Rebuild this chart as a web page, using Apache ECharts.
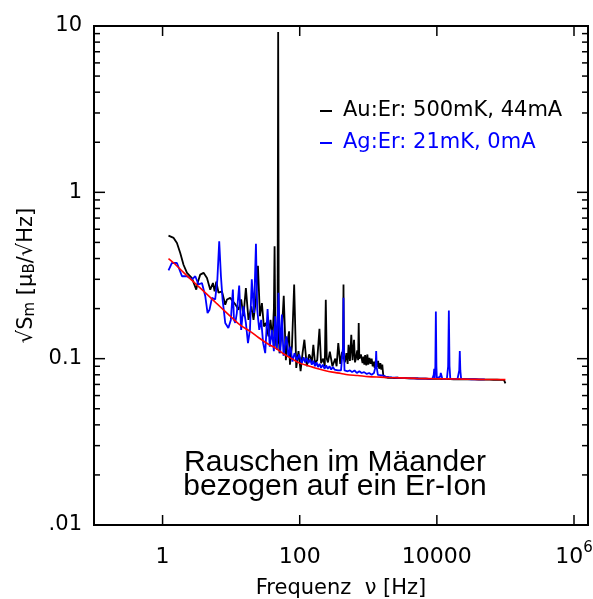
<!DOCTYPE html>
<html>
<head>
<meta charset="utf-8">
<script src="https://cdn.jsdelivr.net/npm/echarts@6/dist/echarts.min.js"></script>
<style>
html, body { margin: 0; padding: 0; background: #fff; }
#chart { width: 593px; height: 599px; }
</style>
</head>
<body>
<div id="chart"></div>
<script>
// Noise spectrum, Au:Er sample at 500 mK / 44 mA: [frequency Hz, sqrt(S_m) in muB/sqrt(Hz)]
const auEr = [
  [1.22,0.549],[1.45,0.532],[1.62,0.496],[1.81,0.432],[2.02,0.367],[2.27,0.328],[2.68,0.305],[3.1,0.26],
  [3.24,0.285],[3.54,0.32],[3.96,0.328],[4.44,0.305],[4.96,0.26],[5.43,0.285],[5.74,0.254],[6.07,0.29],
  [6.55,0.249],[7.34,0.254],[8.2,0.211],[8.7,0.227],[9.7,0.232],[10.6,0.221],[11.5,0.212],[12.8,0.197],
  [14.0,0.227],[15.1,0.180],[16.4,0.266],[17.9,0.171],[19.7,0.206],[21.2,0.171],[23.0,0.227],[24.6,0.362],
  [26.3,0.180],[28.1,0.216],[30.0,0.156],[32.1,0.164],[35.0,0.136],[37.5,0.171],[40.0,0.130],[42.0,0.200],
  [43.0,0.474],[44.0,0.150],[45.5,0.118],[47.5,0.125],[48.5,9.2],[49.5,0.140],[50.8,0.108],[55.0,0.149],
  [58.5,0.239],[62.8,0.098],[67.0,0.130],[70.0,0.146],[72.0,0.092],[77.0,0.118],[83.0,0.279],[89.0,0.088],
  [96.0,0.111],[103,0.084],[110,0.108],[117,0.130],[127,0.090],[137,0.106],[142,0.103],[150,0.095],
  [158,0.121],[167,0.094],[180,0.098],[194,0.151],[205,0.094],[220,0.100],[232,0.090],[240,0.226],
  [248,0.100],[258,0.095],[275,0.110],[290,0.111],[300,0.090],[310,0.092],[330,0.100],[345,0.090],
  [365,0.124],[390,0.093],[415,0.110],[428,0.100],[435,0.279],[442,0.100],[455,0.095],[480,0.108],
  [500,0.093],[515,0.121],[540,0.097],[565,0.139],[590,0.098],[620,0.130],[640,0.095],[660,0.100],
  [690,0.112],[710,0.098],[725,0.164],[740,0.100],[760,0.098],[780,0.106],[800,0.108],[825,0.094],
  [850,0.103],[875,0.092],[900,0.105],[935,0.091],[970,0.106],[1000,0.092],[1040,0.101],[1080,0.093],
  [1120,0.100],[1160,0.090],[1200,0.096],[1240,0.088],[1290,0.098],[1340,0.089],[1390,0.097],[1440,0.087],
  [1500,0.094],[1550,0.086],[1600,0.092],[1650,0.080],[1720,0.0775],[1800,0.079],[1900,0.0768],[2000,0.0785],
  [2120,0.077],[2250,0.0782],[2380,0.0765],[2520,0.078],[2670,0.0768],[2830,0.0779],[3000,0.0764],[3180,0.0778],
  [3370,0.0763],[3570,0.0776],[3780,0.0762],[4000,0.0775],[4250,0.0761],[4500,0.0774],[4770,0.0762],[5050,0.0778],
  [5350,0.076],[5700,0.0772],[6000,0.0759],[6400,0.0771],[6800,0.0758],[7200,0.077],[7600,0.0757],[8100,0.0768],
  [8600,0.0756],[9100,0.0766],[9700,0.0755],[10300,0.0767],[11000,0.0756],[11600,0.0765],[12300,0.0754],[13100,0.0768],
  [13900,0.0755],[14700,0.0764],[15600,0.0753],[16600,0.0762],[17600,0.0752],[18700,0.0763],[19800,0.0753],[21000,0.0761],
  [22300,0.0751],[23700,0.0762],[25100,0.0752],[26700,0.0765],[28300,0.0751],[30000,0.076],[32000,0.075],[34000,0.0762],
  [36000,0.075],[38500,0.0759],[41000,0.0749],[43500,0.0758],[46000,0.0749],[49000,0.0757],[52000,0.0748],[55500,0.0756],
  [59000,0.0748],[63000,0.0757],[67000,0.0747],[71000,0.0755],[75500,0.0747],[80000,0.0754],[85000,0.0746],[90000,0.0752],
  [95000,0.0745],[98000,0.0735],[100000,0.071]
];

// Noise spectrum, Ag:Er sample at 21 mK / 0 mA
const agEr = [
  [1.22,0.339],[1.37,0.376],[1.62,0.376],[1.92,0.313],[2.27,0.313],[2.68,0.300],[3.0,0.313],[3.35,0.279],
  [3.75,0.285],[4.2,0.237],[4.53,0.188],[4.84,0.197],[5.25,0.232],[5.85,0.227],[6.3,0.300],[6.7,0.507],
  [7.1,0.313],[7.5,0.227],[8.2,0.164],[9.1,0.153],[9.9,0.171],[10.6,0.260],[11.0,0.171],[11.5,0.164],
  [12.1,0.188],[13.1,0.275],[14.0,0.149],[15.1,0.206],[16.4,0.164],[17.6,0.124],[18.8,0.149],[20.0,0.300],
  [21.5,0.188],[23.0,0.490],[24.0,0.197],[25.7,0.149],[27.4,0.171],[29.3,0.124],[31.4,0.108],[34.0,0.199],
  [36.6,0.118],[39.3,0.149],[42.0,0.111],[44.0,0.180],[46.5,0.113],[49.0,0.249],[52.0,0.108],[55.0,0.184],
  [58.0,0.104],[61.0,0.120],[64.0,0.136],[68.5,0.103],[73.0,0.118],[78.5,0.096],[84.0,0.108],[91.0,0.098],
  [98.0,0.106],[107,0.094],[114,0.102],[120,0.095],[127,0.101],[134,0.094],[142,0.099],[150,0.092],
  [158,0.097],[167,0.090],[176,0.095],[185,0.089],[195,0.093],[205,0.088],[217,0.092],[230,0.087],
  [243,0.091],[257,0.087],[272,0.090],[288,0.086],[305,0.089],[322,0.086],[340,0.088],[360,0.085],
  [380,0.087],[400,0.085],[420,0.087],[430,0.120],[435,0.232],[440,0.120],[450,0.085],[475,0.086],
  [500,0.084],[540,0.085],[580,0.083],[630,0.085],[680,0.082],[740,0.084],[800,0.082],[870,0.083],
  [950,0.081],[1030,0.082],[1120,0.080],[1210,0.082],[1280,0.090],[1304,0.111],[1330,0.088],[1380,0.080],
  [1500,0.0795],[1650,0.079],[1800,0.078],[2000,0.0775],[2200,0.0772],[2450,0.077],[2700,0.0768],[3000,0.0766],
  [3300,0.0765],[3700,0.0763],[4100,0.0762],[4600,0.0761],[5100,0.076],[5700,0.0759],[6300,0.0758],[7000,0.0758],
  [7800,0.0757],[8600,0.0757],[9000,0.080],[9150,0.087],[9300,0.0765],[9500,0.090],[9670,0.192],[9850,0.090],
  [10000,0.0762],[10600,0.0757],[11200,0.078],[11400,0.082],[11700,0.079],[12000,0.0757],[13000,0.0756],[14000,0.0756],
  [14600,0.090],[14960,0.195],[15300,0.090],[15700,0.0756],[17000,0.0755],[18500,0.0755],[20000,0.0755],[21200,0.085],
  [21600,0.111],[22000,0.085],[22600,0.0754],[25000,0.0754],[28000,0.0753],[32000,0.0752],[36000,0.0752],[41000,0.0751],
  [46000,0.0751],[50000,0.075]
];

// Smooth fit through the spectra
const fitCurve = [
  [1.22,0.40],[1.5,0.372],[2,0.331],[2.5,0.304],[3,0.283],[4,0.254],[5,0.233],[6.2,0.214],
  [8,0.194],[10,0.178],[13.6,0.159],[18.9,0.146],[25,0.134],[35,0.122],[44,0.116],[58,0.107],
  [80,0.099],[100,0.094],[130,0.091],[168,0.088],[230,0.085],[300,0.083],[400,0.0815],[500,0.080],
  [700,0.0792],[1000,0.078],[1500,0.0774],[2000,0.077],[2925,0.0766],[5000,0.0761],[10000,0.0757],
  [20000,0.0754],[30000,0.0752],[50000,0.075],[100000,0.0748]
];

const seriesNames = ['Au:Er: 500mK, 44mA', 'Ag:Er: 21mK, 0mA'];

// Axis ticks and their labels
const xMajorTicks = [1, 100, 10000, 1000000];
const xTickLabels = ['{b|1}', '{b|100}', '{b|10000}', '{b|10}{s|6}'];
const yMajorTicks = [0.01, 0.1, 1, 10];
const yTickLabels = ['.01', '0.1', '1', '10'];
const yMinorTicks = [
  0.02, 0.03, 0.04, 0.05, 0.06, 0.07, 0.08, 0.09,
  0.2, 0.3, 0.4, 0.5, 0.6, 0.7, 0.8, 0.9,
  2, 3, 4, 5, 6, 7, 8, 9
];

const FONT = 'DejaVu Sans, Liberation Sans, sans-serif';
const X_MIN = 0.1, X_MAX = 1.6e6, Y_MIN = 0.01, Y_MAX = 10;

function labelFor(v, ticks, labels) {
  for (let i = 0; i < ticks.length; i++) {
    if (Math.abs(Math.log10(v) - Math.log10(ticks[i])) < 1e-6) return labels[i];
  }
  return '';
}

// tick marks: kind 0 = major y, 1 = minor y, 2 = major x; drawn inside the frame on all sides
const tickData = [].concat(
  yMajorTicks.map(v => [1, v, 0]),
  yMinorTicks.map(v => [1, v, 1]),
  xMajorTicks.map(v => [v, 1, 2])
);

function renderTicks(params, api) {
  const cs = params.coordSys;
  const kind = api.value(2);
  const p = api.coord([api.value(0), api.value(1)]);
  const style = { stroke: '#000', lineWidth: 1.5 };
  if (kind === 2) {
    const yb = cs.y + cs.height, yt = cs.y;
    return { type: 'group', children: [
      { type: 'line', shape: { x1: p[0], y1: yb, x2: p[0], y2: yb - 10 }, style: style },
      { type: 'line', shape: { x1: p[0], y1: yt, x2: p[0], y2: yt + 10 }, style: style }
    ]};
  }
  const len = kind === 0 ? 11 : 6;
  const xl = cs.x, xr = cs.x + cs.width;
  return { type: 'group', children: [
    { type: 'line', shape: { x1: xl, y1: p[1], x2: xl + len, y2: p[1] }, style: style },
    { type: 'line', shape: { x1: xr, y1: p[1], x2: xr - len, y2: p[1] }, style: style }
  ]};
}

const chart = echarts.init(document.getElementById('chart'), null, { renderer: 'canvas' });

chart.setOption({
  backgroundColor: '#fff',
  animation: false,
  grid: {
    left: 94, right: 5, top: 26, bottom: 74,
    show: true, borderColor: '#000', borderWidth: 2,
    containLabel: false, outerBoundsMode: 'none'
  },
  legend: {
    orient: 'vertical', left: 315, top: 95,
    icon: 'rect', itemWidth: 12, itemHeight: 2, itemGap: 10,
    selectedMode: false,
    textStyle: { fontFamily: FONT, fontSize: 21, lineHeight: 22, padding: [0, 0, 0, 6] },
    data: [
      { name: seriesNames[0], textStyle: { color: '#000' } },
      { name: seriesNames[1], textStyle: { color: '#0000ff' } }
    ]
  },
  xAxis: {
    type: 'log', logBase: 10, min: X_MIN, max: X_MAX,
    axisLine: { show: false }, axisTick: { show: false }, splitLine: { show: false },
    axisLabel: {
      margin: 15, color: '#000', showMinLabel: true, showMaxLabel: true,
      formatter: v => labelFor(v, xMajorTicks, xTickLabels),
      rich: {
        b: { fontFamily: FONT, fontSize: 22, lineHeight: 34, color: '#000' },
        s: { fontFamily: FONT, fontSize: 15, lineHeight: 16, padding: [0, 0, 18, 0], color: '#000' }
      }
    },
    name: 'Frequenz  ν [Hz]', nameLocation: 'middle', nameGap: 52,
    nameTextStyle: { fontFamily: FONT, fontSize: 21, color: '#000' }
  },
  yAxis: {
    type: 'log', logBase: 10, min: Y_MIN, max: Y_MAX,
    axisLine: { show: false }, axisTick: { show: false }, splitLine: { show: false },
    axisLabel: {
      margin: 12, color: '#000', fontFamily: FONT, fontSize: 21,
      showMinLabel: true, showMaxLabel: true,
      formatter: v => labelFor(v, yMajorTicks, yTickLabels)
    },
    name: '√S{sub|m} [μ{sub|B}/√Hz]', nameLocation: 'middle', nameGap: 54, nameRotate: 90,
    nameTextStyle: {
      fontFamily: FONT, fontSize: 21, color: '#000',
      rich: {
        sub: { fontFamily: FONT, fontSize: 15, color: '#000', padding: [8, 0, 0, 0] }
      }
    }
  },
  graphic: [{
    type: 'text', x: 335, y: 475,
    style: {
      text: 'Rauschen im Mäander\nbezogen auf ein Er-Ion',
      fontFamily: 'Liberation Sans, Arial, sans-serif', fontSize: 30, lineHeight: 24,
      fill: '#000', align: 'center', verticalAlign: 'middle'
    }
  }],
  series: [
    {
      name: seriesNames[0], type: 'line', data: auEr, showSymbol: false, symbol: 'none',
      color: '#000', lineStyle: { color: '#000', width: 1.8, join: 'bevel' }, z: 2
    },
    {
      name: seriesNames[1], type: 'line', data: agEr, showSymbol: false, symbol: 'none',
      color: '#0000ff', lineStyle: { color: '#0000ff', width: 1.8, join: 'bevel' }, z: 3
    },
    {
      name: 'fit', type: 'line', data: fitCurve, showSymbol: false, symbol: 'none', smooth: 0.3,
      color: '#ff0000', lineStyle: { color: '#ff0000', width: 1.6 }, z: 4
    },
    {
      name: 'ticks', type: 'custom', data: tickData, renderItem: renderTicks,
      encode: { x: 0, y: 1 }, silent: true, z: 5
    }
  ]
});
</script>
</body>
</html>
